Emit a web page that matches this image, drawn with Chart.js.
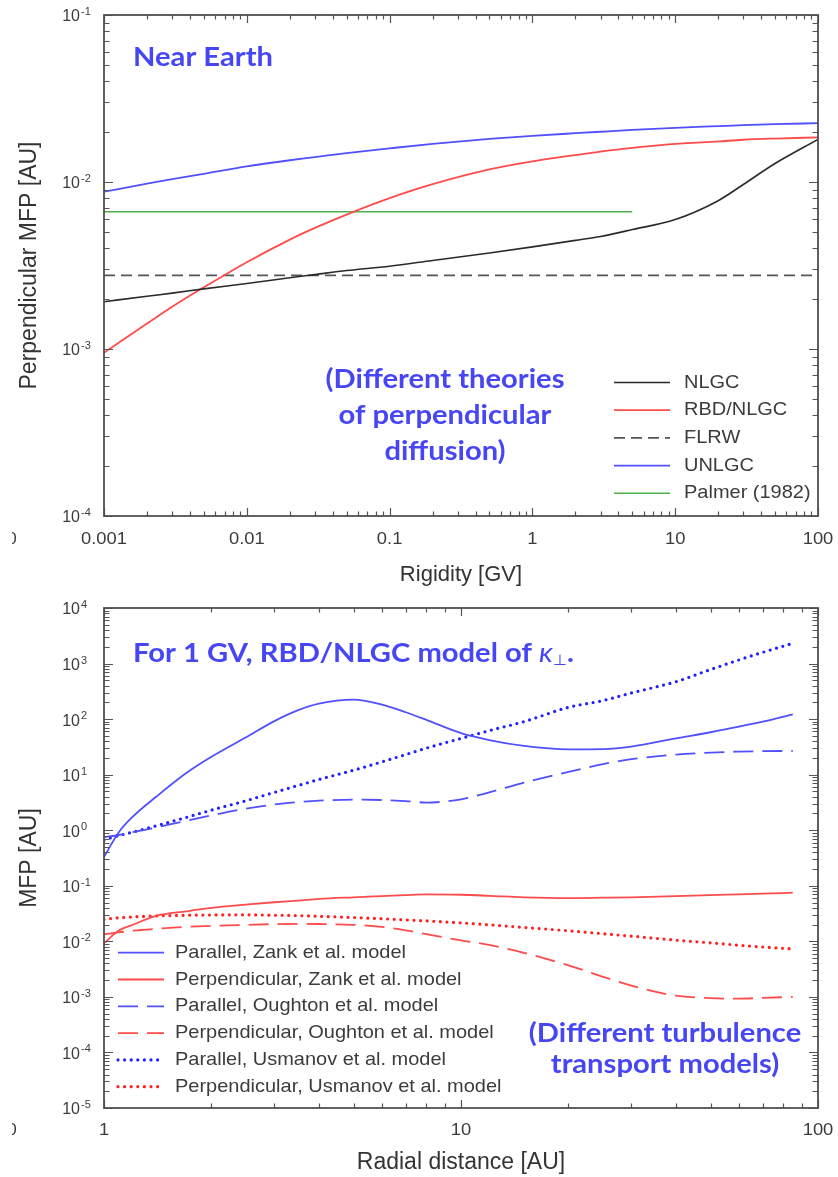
<!DOCTYPE html>
<html lang="en">
<head>
<meta charset="UTF-8">
<title>Mean free paths</title>
<script src="https://cdn.jsdelivr.net/npm/chart.js@4.4.1/dist/chart.umd.min.js"></script>
<style>
  body { margin: 0; background: #fff; }
  canvas { display: block; }
</style>
</head>
<body>
<canvas id="topChart" width="838" height="595"></canvas>
<canvas id="bottomChart" width="838" height="582"></canvas>
<script>
// ---- top panel: perpendicular MFP near Earth vs rigidity ----
const rigidity = [0.001, 0.002, 0.003, 0.005, 0.01, 0.02, 0.03, 0.05, 0.1, 0.2, 0.5, 1, 2, 3, 5, 10, 20, 30, 50, 100];
const nlgc    = [1.92e-3, 2.07e-3, 2.16e-3, 2.29e-3, 2.47e-3, 2.67e-3, 2.79e-3, 2.95e-3, 3.13e-3, 3.39e-3, 3.76e-3, 4.09e-3, 4.47e-3, 4.72e-3, 5.19e-3, 5.96e-3, 7.73e-3, 9.66e-3, 1.29e-2, 1.8e-2];
const rbdNlgc = [9.5e-4, 1.42e-3, 1.79e-3, 2.34e-3, 3.31e-3, 4.52e-3, 5.31e-3, 6.38e-3, 8.0e-3, 9.7e-3, 1.19e-2, 1.33e-2, 1.45e-2, 1.52e-2, 1.6e-2, 1.69e-2, 1.75e-2, 1.79e-2, 1.82e-2, 1.85e-2];
const unlgc   = [8.75e-3, 9.77e-3, 1.04e-2, 1.12e-2, 1.24e-2, 1.35e-2, 1.41e-2, 1.49e-2, 1.59e-2, 1.69e-2, 1.81e-2, 1.89e-2, 1.96e-2, 2.0e-2, 2.05e-2, 2.11e-2, 2.16e-2, 2.19e-2, 2.22e-2, 2.25e-2];
const flrwRigidity = [0.001, 100];
const flrw = [2.76e-3, 2.76e-3];
const palmerRigidity = [0.001, 5];
const palmer = [6.64e-3, 6.64e-3];

const topXTicks = [0.001, 0.01, 0.1, 1, 10, 100];
const topXLabels = ['0.001', '0.01', '0.1', '1', '10', '100'];
const topYTicks = [1e-4, 1e-3, 1e-2, 1e-1];
const topYExps = ['-4', '-3', '-2', '-1'];

// ---- bottom panel: MFP vs radial distance, 1 GV ----
const radius = [1, 1.1, 1.2, 1.4, 1.7, 2, 2.5, 3, 3.5, 4, 5, 6, 7, 8, 10, 12, 15, 20, 25, 30, 40, 50, 60, 70, 85];
const parZank     = [0.33, 0.92, 1.72, 4.0, 10.7, 21, 47, 92, 145, 190, 225, 182, 133, 97, 56, 42, 33, 28.6, 28.8, 32, 45, 58, 73, 90, 122];
const perpZank    = [0.0092, 0.0156, 0.0197, 0.0286, 0.0347, 0.040, 0.0457, 0.0505, 0.054, 0.058, 0.062, 0.065, 0.068, 0.070, 0.069, 0.066, 0.062, 0.060, 0.061, 0.062, 0.065, 0.068, 0.070, 0.072, 0.075];
const parOughton  = [0.75, 0.82, 0.92, 1.12, 1.48, 1.85, 2.45, 2.9, 3.2, 3.4, 3.55, 3.5, 3.35, 3.15, 3.6, 4.8, 7.2, 11.2, 15.5, 19, 23, 25, 26, 26.5, 26.7];
const perpOughton = [0.0134, 0.0145, 0.0155, 0.0168, 0.0182, 0.019, 0.0198, 0.0204, 0.0206, 0.0205, 0.0198, 0.0182, 0.0158, 0.0135, 0.0104, 0.0086, 0.0062, 0.0037, 0.0023, 0.0016, 0.00105, 0.00095, 0.00093, 0.00096, 0.001];
const parUsmanov  = [0.67, 0.8, 0.92, 1.2, 1.7, 2.3, 3.4, 4.8, 6.4, 8.2, 12, 17, 23, 30, 45, 62, 90, 163, 216, 295, 472, 780, 1160, 1590, 2310];
const perpUsmanov = [0.025, 0.0265, 0.0275, 0.0287, 0.0295, 0.0298, 0.030, 0.0295, 0.029, 0.0282, 0.0268, 0.0255, 0.0243, 0.0233, 0.0215, 0.0198, 0.0178, 0.0155, 0.0137, 0.0124, 0.0105, 0.0094, 0.0085, 0.0079, 0.0073];

const botXTicks = [1, 10, 100];
const botXLabels = ['1', '10', '100'];
const botYTicks = [1e-5, 1e-4, 1e-3, 1e-2, 1e-1, 1, 10, 100, 1000, 10000];
const botYExps = ['-5', '-4', '-3', '-2', '-1', '0', '1', '2', '3', '4'];

const BLUE = '#5050ff', RED = '#ff4b4b', NOTE = '#4646f5';
const AXIS_FONT = '"Liberation Sans", Arial, sans-serif';
const NOTE_FONT = 'Lato, "Open Sans", sans-serif';
const STRETCH = 1.08;   // the source picture is a bit wider than tall

const pts = (xs, ys) => xs.map((x, i) => ({x: x, y: ys[i]}));

function wideText(ctx, t, x, y) {
  ctx.save();
  ctx.translate(x, y);
  ctx.scale(STRETCH, 1);
  ctx.fillText(t, 0, 0);
  ctx.restore();
}

// frame, inward ticks on all four sides, tick labels with superscripts
const frameTicks = {
  id: 'frameTicks',
  afterDraw(chart, args, o) {
    const {ctx, chartArea: a} = chart;
    const xs = chart.scales.x, ys = chart.scales.y;
    const marks = (min, max) => {
      const out = [];
      for (let e = Math.floor(Math.log10(min)); e <= Math.ceil(Math.log10(max)); e++) {
        for (let m = 1; m < 10; m++) {
          const v = m * Math.pow(10, e);
          if (v >= min * 0.999 && v <= max * 1.001) out.push({v: v, major: m === 1});
        }
      }
      return out;
    };
    ctx.save();
    ctx.strokeStyle = '#555';
    ctx.lineWidth = 1.2;
    ctx.beginPath();
    marks(xs.min, xs.max).forEach(t => {
      const px = Math.round(xs.getPixelForValue(t.v)) + 0.5;
      const len = t.major ? 8 : 4.5;
      ctx.moveTo(px, a.bottom); ctx.lineTo(px, a.bottom - len);
      ctx.moveTo(px, a.top); ctx.lineTo(px, a.top + len);
    });
    marks(ys.min, ys.max).forEach(t => {
      const py = Math.round(ys.getPixelForValue(t.v)) + 0.5;
      const len = t.major ? 9 : 5.5;
      ctx.moveTo(a.left, py); ctx.lineTo(a.left + len, py);
      ctx.moveTo(a.right, py); ctx.lineTo(a.right - len, py);
    });
    ctx.stroke();
    ctx.lineWidth = 1.8;
    ctx.strokeStyle = '#505050';
    ctx.strokeRect(a.left, a.top, a.right - a.left, a.bottom - a.top);

    ctx.fillStyle = '#3c3c3c';
    ctx.textBaseline = 'middle';
    ctx.textAlign = 'center';
    ctx.font = '17px ' + AXIS_FONT;
    o.xTicks.forEach((v, i) => {
      wideText(ctx, o.xLabels[i], xs.getPixelForValue(v), a.bottom + o.xLabelGap);
    });
    o.yTicks.forEach((v, i) => {
      const py = ys.getPixelForValue(v);
      ctx.textAlign = 'right';
      ctx.font = '16px ' + AXIS_FONT;
      ctx.fillText('10', 80, py + 2);
      ctx.textAlign = 'left';
      ctx.font = '11px ' + AXIS_FONT;
      ctx.fillText(o.yExps[i], 81, py - 3);
    });
    // clipped label from the neighbouring panel
    ctx.save();
    ctx.beginPath();
    ctx.rect(12, a.bottom, 20, 60);
    ctx.clip();
    ctx.textAlign = 'center';
    ctx.font = '17px ' + AXIS_FONT;
    ctx.fillText('0', 12, a.bottom + o.xLabelGap);
    ctx.restore();
    ctx.restore();
  }
};

// legend drawn inside the plot area
const insideLegend = {
  id: 'insideLegend',
  afterDraw(chart, args, o) {
    const ctx = chart.ctx;
    ctx.save();
    ctx.font = o.font;
    ctx.textBaseline = 'middle';
    ctx.textAlign = 'left';
    chart.data.datasets.forEach((ds, i) => {
      const y = o.y + i * o.dy;
      ctx.beginPath();
      ctx.strokeStyle = ds.borderColor;
      ctx.lineWidth = ds.borderWidth;
      ctx.setLineDash(ds.borderDash || []);
      ctx.lineCap = ds.borderCapStyle || 'butt';
      ctx.moveTo(o.x0, y);
      ctx.lineTo(o.x1, y);
      ctx.stroke();
      ctx.fillStyle = '#3c3c3c';
      wideText(ctx, ds.label, o.textX, y);
    });
    ctx.restore();
  }
};

// blue annotation texts
const notes = {
  id: 'notes',
  afterDraw(chart, args, o) {
    const ctx = chart.ctx;
    ctx.save();
    ctx.fillStyle = NOTE;
    ctx.textBaseline = 'alphabetic';
    ctx.textAlign = 'left';
    o.items.forEach(it => {
      const parts = it.parts || [{t: it.text, f: o.font}];
      let w = 0;
      parts.forEach(p => { ctx.font = p.f || o.font; w += ctx.measureText(p.t).width * STRETCH; });
      let x = it.center ? it.x - w / 2 : it.x;
      parts.forEach(p => {
        ctx.font = p.f || o.font;
        wideText(ctx, p.t, x, it.y + (p.dy || 0));
        x += ctx.measureText(p.t).width * STRETCH;
      });
    });
    ctx.restore();
  }
};

function logAxis(min, max, fit, title, size, titlePad) {
  return {
    type: 'logarithmic', min: min, max: max,
    grid: {display: false}, border: {display: false},
    ticks: {display: false},
    title: {display: true, text: title, color: '#333', padding: titlePad,
            font: {family: AXIS_FONT, size: size}},
    afterFit: fit
  };
}

const noteFont = 'bold 27px ' + NOTE_FONT;
const legendFont = '18.5px ' + AXIS_FONT;

new Chart(document.getElementById('topChart'), {
  type: 'line',
  data: {
    datasets: [
      {label: 'NLGC', data: pts(rigidity, nlgc), borderColor: '#2a2a2a', borderWidth: 1.6},
      {label: 'RBD/NLGC', data: pts(rigidity, rbdNlgc), borderColor: RED, borderWidth: 1.8},
      {label: 'FLRW', data: pts(flrwRigidity, flrw), borderColor: '#555', borderWidth: 1.8, borderDash: [11, 6]},
      {label: 'UNLGC', data: pts(rigidity, unlgc), borderColor: BLUE, borderWidth: 1.8},
      {label: 'Palmer (1982)', data: pts(palmerRigidity, palmer), borderColor: '#4cb04c', borderWidth: 1.6}
    ]
  },
  options: {
    responsive: false, animation: false,
    layout: {padding: {left: 0, right: 20, top: 15, bottom: 0}},
    elements: {point: {radius: 0}, line: {cubicInterpolationMode: 'monotone'}},
    scales: {
      x: logAxis(0.001, 100, s => { s.height = 79; }, 'Rigidity [GV]', 22, {top: 0, bottom: 6.8}),
      y: logAxis(1e-4, 1e-1, s => { s.width = 104; }, 'Perpendicular MFP [AU]', 23, {top: 16.2, bottom: 0})
    },
    plugins: {
      legend: {display: false}, tooltip: {enabled: false},
      frameTicks: {xTicks: topXTicks, xLabels: topXLabels, yTicks: topYTicks, yExps: topYExps, xLabelGap: 23},
      insideLegend: {x0: 614, x1: 670, textX: 684, y: 382.5, dy: 27.7, font: legendFont},
      notes: {font: noteFont, items: [
        {text: 'Near Earth', x: 133, y: 66},
        {text: '(Different theories', x: 445, y: 388, center: true},
        {text: 'of perpendicular', x: 445, y: 424, center: true},
        {text: 'diffusion)', x: 445, y: 460, center: true}
      ]}
    }
  },
  plugins: [frameTicks, insideLegend, notes]
});

new Chart(document.getElementById('bottomChart'), {
  type: 'line',
  data: {
    datasets: [
      {label: 'Parallel, Zank et al. model', data: pts(radius, parZank), borderColor: BLUE, borderWidth: 1.8},
      {label: 'Perpendicular, Zank et al. model', data: pts(radius, perpZank), borderColor: RED, borderWidth: 1.8},
      {label: 'Parallel, Oughton et al. model', data: pts(radius, parOughton), borderColor: BLUE, borderWidth: 1.8, borderDash: [20, 9]},
      {label: 'Perpendicular, Oughton et al. model', data: pts(radius, perpOughton), borderColor: RED, borderWidth: 1.8, borderDash: [20, 9]},
      {label: 'Parallel, Usmanov et al. model', data: pts(radius, parUsmanov), borderColor: '#2020ff', borderWidth: 3.2, borderDash: [0, 6.6], borderCapStyle: 'round'},
      {label: 'Perpendicular, Usmanov et al. model', data: pts(radius, perpUsmanov), borderColor: '#ff2020', borderWidth: 3.2, borderDash: [0, 6.6], borderCapStyle: 'round'}
    ]
  },
  options: {
    responsive: false, animation: false,
    layout: {padding: {left: 0, right: 20, top: 13, bottom: 0}},
    elements: {point: {radius: 0}, line: {cubicInterpolationMode: 'monotone'}},
    scales: {
      x: logAxis(1, 100, s => { s.height = 69; }, 'Radial distance [AU]', 23, {top: 0, bottom: 0.2}),
      y: logAxis(1e-5, 1e4, s => { s.width = 104; }, 'MFP [AU]', 23, {top: 16.2, bottom: 0})
    },
    plugins: {
      legend: {display: false}, tooltip: {enabled: false},
      frameTicks: {xTicks: botXTicks, xLabels: botXLabels, yTicks: botYTicks, yExps: botYExps, xLabelGap: 22},
      insideLegend: {x0: 118, x1: 164, textX: 175, y: 357.7, dy: 26.8, font: legendFont},
      notes: {font: noteFont, items: [
        {x: 133, y: 67, parts: [
          {t: 'For 1 GV, RBD/NLGC model of '},
          {t: '\u03ba', f: 'italic 27px ' + NOTE_FONT},
          {t: '\u22a5', f: '15px "DejaVu Sans", sans-serif', dy: 3},
          {t: '.'}
        ]},
        {text: '(Different turbulence', x: 665, y: 447, center: true},
        {text: 'transport models)', x: 665, y: 478, center: true}
      ]}
    }
  },
  plugins: [frameTicks, insideLegend, notes]
});
</script>
</body>
</html>
